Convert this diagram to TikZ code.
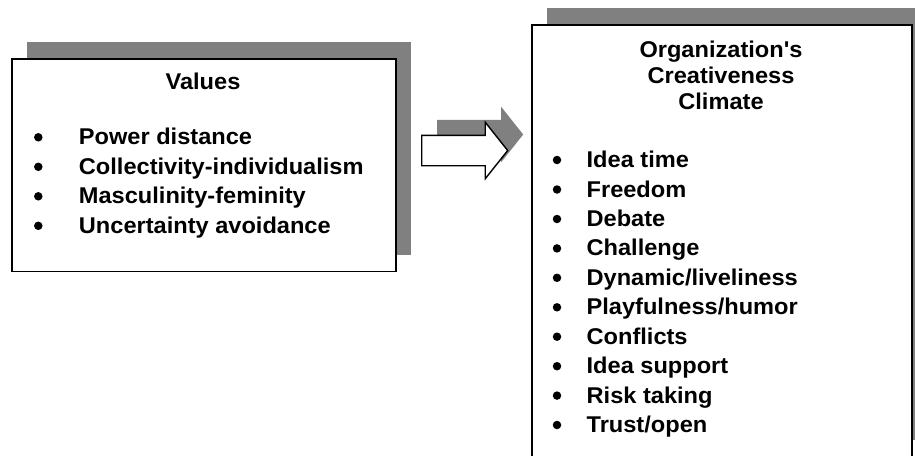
\documentclass[tikz,border=0pt]{standalone}
\usepackage{fontspec}
\newfontfamily\diagramfont{Liberation Sans}[FakeStretch=1.035]
\usetikzlibrary{shapes.arrows}

\definecolor{ShadowGray}{HTML}{808080}
\tikzstyle{shadow-box}=[rectangle, fill={ShadowGray}, inner sep=0pt, anchor=north west]
\tikzstyle{main-box}=[rectangle, draw=black, line width=1.8pt, fill=white, inner sep=0pt, anchor=north west]
\tikzstyle{head-text}=[anchor=base, inner sep=0pt, font=\diagramfont\bfseries\fontsize{22.8}{27}\selectfont]
\tikzstyle{list-point}=[circle, fill=black, inner sep=0pt, minimum size=8.5pt]
\tikzstyle{every label}=[inner sep=0pt, text height=19pt, text depth=4pt, font=\diagramfont\bfseries\fontsize{22.8}{27}\selectfont]
\tikzstyle{big-arrow}=[single arrow, inner sep=14.5pt, minimum height=86pt, minimum width=55pt, single arrow head extend=13pt, single arrow tip angle=103, single arrow head indent=0pt, anchor=tail]

\begin{document}
\begin{tikzpicture}[x=1pt, y=-1pt]
      \useasboundingbox (0,0) rectangle (915,455);
      \clip (0,0) rectangle (915,455);

      % values box
      \node (values:shadow) at (27,42) [shadow-box, minimum width=384pt, minimum height=212.5pt] {};
      \node (values) at (11,58) [main-box, minimum width=384pt, minimum height=212.5pt] {};
      \node (values:title) at (203,89) [head-text] {Values};
      \node (values:power) at (38.3,137.3) [list-point, label={[label distance=36pt]right:{Power distance}}] {};
      \node (values:collect) at (38.3,166.8) [list-point, label={[label distance=36pt]right:{Collectivity-individualism}}] {};
      \node (values:mascul) at (38.3,196.3) [list-point, label={[label distance=36pt]right:{Masculinity-feminity}}] {};
      \node (values:uncert) at (38.3,225.8) [list-point, label={[label distance=36pt]right:{Uncertainty avoidance}}] {};

      % arrow
      \node (arrow:shadow) at (437,134.5) [big-arrow, fill={ShadowGray}] {};
      \node (arrow) at (421,150.5) [big-arrow, draw=black, line width=1.4pt, fill=white] {};

      % climate box
      \node (climate:shadow) at (547,8) [shadow-box, minimum width=380pt, minimum height=432pt] {};
      \node (climate) at (531,24) [main-box, minimum width=380pt, minimum height=432pt] {};
      \node (climate:title1) at (721,57) [head-text] {Organization's};
      \node (climate:title2) at (721,83) [head-text] {Creativeness};
      \node (climate:title3) at (721,109) [head-text] {Climate};
      \node (climate:idea) at (557,160) [list-point, label={[label distance=25pt]right:{Idea time}}] {};
      \node (climate:freedom) at (557,189.5) [list-point, label={[label distance=25pt]right:{Freedom}}] {};
      \node (climate:debate) at (557,219) [list-point, label={[label distance=25pt]right:{Debate}}] {};
      \node (climate:challenge) at (557,248.4) [list-point, label={[label distance=25pt]right:{Challenge}}] {};
      \node (climate:dynamic) at (557,277.8) [list-point, label={[label distance=25pt]right:{Dynamic/liveliness}}] {};
      \node (climate:playful) at (557,307.3) [list-point, label={[label distance=25pt]right:{Playfulness/humor}}] {};
      \node (climate:conflicts) at (557,336.7) [list-point, label={[label distance=25pt]right:{Conflicts}}] {};
      \node (climate:support) at (557,366.2) [list-point, label={[label distance=25pt]right:{Idea support}}] {};
      \node (climate:risk) at (557,395.6) [list-point, label={[label distance=25pt]right:{Risk taking}}] {};
      \node (climate:trust) at (557,425) [list-point, label={[label distance=25pt]right:{Trust/open}}] {};
    \end{tikzpicture}
\end{document}
